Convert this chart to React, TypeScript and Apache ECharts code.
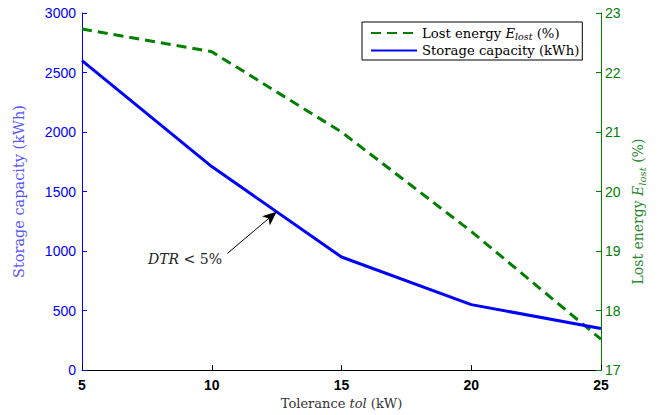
import React, { useEffect, useRef } from "react";
import * as echarts from "echarts";

const tolerance = [5, 10, 15, 20, 25];
const storageCapacity = [2600, 1710, 950, 550, 350];
const lostEnergy = [22.73, 22.35, 21.0, 19.33, 17.52];
const arrowFrom = [10.6, 980];
const arrowTo = [12.5, 1330];

const SERIF = "DejaVu Serif";
const SANS = "Liberation Sans";

export default function App() {
  const ref = useRef<HTMLDivElement>(null);
  useEffect(() => {
    if (!ref.current) return;
    const chart = echarts.init(ref.current, undefined, { renderer: "svg" });
    const blue = "#0000ff";
    const green = "#008000";
    const LF = 13.2;
    const AF = 14.5;
    chart.setOption({
      animation: false,
      backgroundColor: "#ffffff",
      grid: { left: 82, right: 66, top: 13, bottom: 44, containLabel: false },
      legend: {
        orient: "vertical",
        left: 362,
        top: 22,
        backgroundColor: "#fff",
        borderColor: "#000",
        borderWidth: 1,
        borderRadius: 0,
        padding: [3, 3, 3, 8],
        itemGap: 3,
        itemWidth: 46,
        itemHeight: 14,
        itemStyle: { opacity: 0 },
        data: ["lost", "storage"],
        formatter: (n: string) =>
          n === "lost"
            ? "{a|Lost energy }{i|E}{s|lost}{a| (%)}"
            : "{a|Storage capacity (kWh)}",
        textStyle: {
          fontFamily: SERIF,
          fontSize: LF,
          color: "#000",
          rich: {
            a: { fontFamily: SERIF, fontSize: LF, color: "#000", lineHeight: 16 },
            i: { fontFamily: SERIF, fontSize: LF, fontStyle: "italic", color: "#000", lineHeight: 16 },
            s: { fontFamily: SERIF, fontSize: 9.5, fontStyle: "italic", color: "#000", lineHeight: 16, verticalAlign: "bottom", padding: [6, 0, 0, 0] },
          },
        },
      },
      xAxis: {
        type: "value",
        min: 5,
        max: 25,
        interval: 5,
        name: "{a|Tolerance }{i|tol}{a| (kW)}",
        nameLocation: "middle",
        nameGap: 25,
        nameTextStyle: {
          fontFamily: SERIF,
          rich: {
            a: { fontFamily: SERIF, fontSize: 13, color: "#333" },
            i: { fontFamily: SERIF, fontSize: 13, fontStyle: "italic", color: "#333" },
          },
        },
        axisLine: { lineStyle: { color: "#000", width: 1 } },
        axisTick: { inside: true, length: 5, lineStyle: { color: "#000" } },
        axisLabel: { color: "#000", fontFamily: SANS, fontSize: 14, fontWeight: "bold", margin: 8 },
        splitLine: { show: false },
      },
      yAxis: [
        {
          type: "value",
          min: 0,
          max: 3000,
          interval: 500,
          position: "left",
          name: "Storage capacity (kWh)",
          nameLocation: "middle",
          nameGap: 56,
          nameTextStyle: { fontFamily: SERIF, fontSize: AF, color: "#5555ff" },
          axisLine: { show: true, lineStyle: { color: blue, width: 1 } },
          axisTick: { show: true, inside: true, length: 5, lineStyle: { color: blue } },
          axisLabel: { color: blue, fontFamily: SANS, fontSize: 14, margin: 6, formatter: (v: number) => String(v) },
          splitLine: { show: false },
        },
        {
          type: "value",
          min: 17,
          max: 23,
          interval: 1,
          position: "right",
          name: "{a|Lost energy }{i|E}{s|lost}{a| (%)}",
          nameLocation: "middle",
          nameGap: 26,
          nameRotate: 90,
          nameTextStyle: {
            fontFamily: SERIF,
            padding: [0, 40, 0, 0],
            rich: {
              a: { fontFamily: SERIF, fontSize: 14, color: "#2a8a2a", lineHeight: 18 },
              i: { fontFamily: SERIF, fontSize: 14, fontStyle: "italic", color: "#2a8a2a", lineHeight: 18 },
              s: { fontFamily: SERIF, fontSize: 10, fontStyle: "italic", color: "#2a8a2a", lineHeight: 18, verticalAlign: "bottom", padding: [6, 0, 0, 0] },
            },
          },
          axisLine: { show: true, lineStyle: { color: green, width: 1 } },
          axisTick: { show: true, inside: true, length: 5, lineStyle: { color: green } },
          axisLabel: { color: green, fontFamily: SANS, fontSize: 14, margin: 4 },
          splitLine: { show: false },
        },
      ],
      series: [
        {
          name: "lost",
          type: "line",
          yAxisIndex: 1,
          data: tolerance.map((x, i) => [x, lostEnergy[i]]),
          symbol: "none",
          lineStyle: { color: green, width: 3, type: [10, 6] },
          itemStyle: { color: green },
          z: 2,
        },
        {
          name: "storage",
          type: "line",
          yAxisIndex: 0,
          data: tolerance.map((x, i) => [x, storageCapacity[i]]),
          symbol: "none",
          lineStyle: { color: blue, width: 3 },
          itemStyle: { color: blue },
          z: 3,
          markLine: {
            silent: true,
            symbol: ["none", "arrow"],
            symbolSize: [9, 14],
            label: { show: false },
            itemStyle: { color: "#000" },
            lineStyle: { color: "#000", width: 1, type: "solid" },
            data: [[{ coord: arrowFrom }, { coord: arrowTo }]],
          },
        },
      ],
      graphic: [
        {
          type: "text",
          left: 148,
          top: 252,
          style: {
            text: "{i|DTR}{a| < 5%}",
            rich: {
              i: { fontFamily: SERIF, fontSize: 14, fontStyle: "italic", fill: "#222" },
              a: { fontFamily: SERIF, fontSize: 14, fill: "#222" },
            },
          },
        },
      ],
    });
    return () => chart.dispose();
  }, []);
  return (
    <div
      ref={ref}
      style={{ position: "fixed", left: 0, top: 0, width: 667, height: 415 }}
    />
  );
}
